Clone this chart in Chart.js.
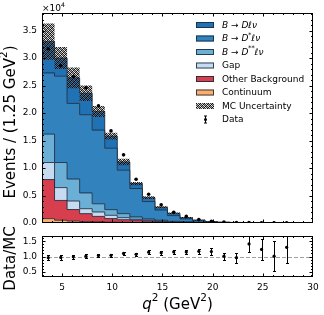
<!DOCTYPE html>
<html>
<head>
<meta charset="utf-8">
<script src="https://cdn.jsdelivr.net/npm/chart.js@4.4.1/dist/chart.umd.min.js"></script>
<style>
html, body { margin: 0; padding: 0; background: #fff; }
#wrap { position: relative; width: 324px; height: 315px; }
canvas { position: absolute; left: 0; top: 0; }
</style>
</head>
<body>
<div id="wrap">
  <canvas id="main" width="324" height="315"></canvas>
  <canvas id="ratio" width="324" height="315"></canvas>
</div>
<script>
// q^2 bins, 1.25 GeV^2 wide
var binEdges = [3, 4.25, 5.5, 6.75, 8, 9.25, 10.5, 11.75, 13, 14.25, 15.5, 16.75, 18, 19.25, 20.5, 21.75, 23, 24.25, 25.5, 26.75, 28, 29.25, 30.5];
var binCenters = [3.625, 4.875, 6.125, 7.375, 8.625, 9.875, 11.125, 12.375, 13.625, 14.875, 16.125, 17.375, 18.625, 19.875, 21.125, 22.375, 23.625, 24.875, 26.125, 27.375];

// MC components (events per bin), stacked bottom -> top
var continuum = [800, 500, 350, 250, 200, 150, 120, 100, 80, 60, 50, 40, 30, 20, 20, 10, 10, 5, 5, 0, 0, 0];
var otherBkg  = [7100, 3600, 2100, 1450, 1000, 650, 480, 400, 280, 190, 100, 60, 40, 30, 20, 20, 10, 10, 5, 5, 0, 0];
var gap       = [3100, 2340, 1550, 900, 800, 600, 370, 170, 140, 100, 70, 40, 30, 20, 10, 10, 10, 5, 5, 0, 0, 0];
var dStarStar = [5170, 4560, 4000, 2870, 1500, 1030, 730, 430, 230, 150, 80, 60, 30, 20, 10, 10, 0, 0, 0, 0, 0, 0];
var dStar     = [11130, 15700, 13750, 14230, 13400, 11170, 7900, 5170, 3170, 1870, 1050, 550, 270, 110, 50, 20, 10, 10, 5, 5, 0, 0];
var dMeson    = [5700, 3300, 4650, 3900, 3400, 2200, 1500, 900, 700, 490, 400, 220, 130, 70, 50, 30, 20, 10, 5, 5, 0, 0];
var mcUnc     = [3300, 2000, 1900, 1400, 1000, 600, 600, 300, 250, 180, 150, 100, 80, 50, 30, 20, 15, 10, 8, 5, 0, 0];

// data
var dataVals = [31700, 28600, 26600, 24600, 21300, 16750, 12400, 7950, 5230, 3300, 1950, 1200, 620, 300, 160, 95, 85, 50, 25, 20];
var dataErr  = [180, 170, 163, 157, 146, 129, 111, 89, 72, 57, 44, 35, 25, 17, 13, 10, 9, 7, 5, 4];
var ratioVals = [0.96, 0.97, 0.99, 1.01, 1.03, 1.04, 1.10, 1.07, 1.14, 1.12, 1.15, 1.15, 1.17, 1.16, 1.01, 0.96, 1.41, 1.23, 1.01, 1.30];
var ratioErr  = [0.09, 0.07, 0.07, 0.06, 0.05, 0.05, 0.06, 0.05, 0.06, 0.06, 0.07, 0.07, 0.08, 0.11, 0.12, 0.17, 0.27, 0.34, 0.49, 0.50];

// ticks
var xTicks = [5, 10, 15, 20, 25, 30];
var yTicks = [0, 5000, 10000, 15000, 20000, 25000, 30000, 35000];
var ratioTicks = [0.5, 1.0, 1.5];

var FONT = '"DejaVu Sans", sans-serif';
var EDGE = 'rgba(25,40,60,0.85)';

// hatch pattern for MC uncertainty
var hatch = (function () {
  var c = document.createElement('canvas');
  c.width = 4; c.height = 4;
  var g = c.getContext('2d');
  for (var i = 0; i < 4; i++) {
    for (var j = 0; j < 4; j++) {
      if ((i + j) % 4 === 3) { g.fillStyle = 'rgba(0,0,0,0.95)'; g.fillRect(i, j, 1, 1); }
      else if ((i + j) % 2 === 1) { g.fillStyle = 'rgba(30,30,30,0.85)'; g.fillRect(i, j, 1, 1); }
      else if ((i - j + 4) % 4 === 0) { g.fillStyle = 'rgba(80,80,80,0.55)'; g.fillRect(i, j, 1, 1); }
      else { g.fillStyle = 'rgba(150,150,150,0.25)'; g.fillRect(i, j, 1, 1); }
    }
  }
  return c.getContext('2d').createPattern(c, 'repeat');
})();

var comps = [
  { v: continuum, c: '#fdae6b' },
  { v: otherBkg,  c: '#d73f4f' },
  { v: gap,       c: '#c6dbef' },
  { v: dStarStar, c: '#6baed6' },
  { v: dStar,     c: '#3182bd' },
  { v: dMeson,    c: '#2171b5' }
];

function steps(vals) {
  return binEdges.map(function (x, i) {
    return { x: x, y: vals[Math.min(i, vals.length - 1)] };
  });
}

var total = continuum.map(function (_, i) {
  return comps.reduce(function (s, c) { return s + c.v[i]; }, 0);
});
var bandLo = total.map(function (t, i) { return t - mcUnc[i]; });
var bandHi = total.map(function (t, i) { return t + mcUnc[i]; });

var datasets = comps.map(function (c, i) {
  return {
    type: 'line', data: steps(c.v), stepped: 'before', stack: 'mc',
    fill: i === 0 ? 'origin' : '-1',
    backgroundColor: c.c, borderColor: EDGE, borderWidth: 1,
    pointRadius: 0, order: 3
  };
});
datasets.push({ type: 'line', data: steps(bandLo), stepped: 'before', stack: 'lo', fill: false,
  borderWidth: 0, borderColor: 'rgba(0,0,0,0)', pointRadius: 0, order: 2 });
datasets.push({ type: 'line', data: steps(bandHi), stepped: 'before', stack: 'hi', fill: '-1',
  backgroundColor: hatch, borderWidth: 0, borderColor: 'rgba(0,0,0,0)', pointRadius: 0, order: 2 });
datasets.push({ type: 'scatter', stack: 'data', order: 0,
  data: binCenters.map(function (x, i) { return { x: x, y: dataVals[i] }; }),
  pointRadius: 1.8, backgroundColor: '#000', borderWidth: 0 });

// inward ticks on all four sides + frame
function frameTicks(chart, xMajor, xMinor, yMajor, yMinor) {
  var ctx = chart.ctx, a = chart.chartArea, xs = chart.scales.x, ys = chart.scales.y;
  ctx.save();
  ctx.strokeStyle = '#000';
  ctx.lineWidth = 1;
  ctx.beginPath();
  function xt(v, len) {
    var p = Math.round(xs.getPixelForValue(v)) + 0.5;
    if (p < a.left || p > a.right) return;
    ctx.moveTo(p, a.bottom); ctx.lineTo(p, a.bottom - len);
    ctx.moveTo(p, a.top); ctx.lineTo(p, a.top + len);
  }
  function yt(v, len) {
    var p = Math.round(ys.getPixelForValue(v)) + 0.5;
    if (p < a.top || p > a.bottom) return;
    ctx.moveTo(a.left, p); ctx.lineTo(a.left + len, p);
    ctx.moveTo(a.right, p); ctx.lineTo(a.right - len, p);
  }
  xMajor.forEach(function (v) { xt(v, 3.5); });
  xMinor.forEach(function (v) { xt(v, 2); });
  yMajor.forEach(function (v) { yt(v, 3.5); });
  yMinor.forEach(function (v) { yt(v, 2); });
  ctx.stroke();
  ctx.strokeRect(Math.round(a.left) + 0.5, Math.round(a.top) + 0.5,
    Math.round(a.right - a.left) - 1, Math.round(a.bottom - a.top) - 1);
  ctx.restore();
}

function rich(ctx, x, y, parts, size) {
  parts.forEach(function (p) {
    var fs = p.sup ? size * 0.7 : size;
    ctx.font = (p.it ? 'italic ' : '') + fs + 'px ' + FONT;
    ctx.fillText(p.t, x, p.sup ? y - size * 0.42 : y);
    x += ctx.measureText(p.t).width;
  });
  return x;
}
function richWidth(ctx, parts, size) {
  var w = 0;
  parts.forEach(function (p) {
    ctx.font = (p.it ? 'italic ' : '') + (p.sup ? size * 0.7 : size) + 'px ' + FONT;
    w += ctx.measureText(p.t).width;
  });
  return w;
}

var xMinor = [];
for (var m = 3; m <= 30; m++) if (m % 5) xMinor.push(m);

var legendItems = [
  { fill: '#2171b5', parts: [{ t: 'B', it: 1 }, { t: ' \u2192 ' }, { t: 'D\u2113\u03bd', it: 1 }] },
  { fill: '#3182bd', parts: [{ t: 'B', it: 1 }, { t: ' \u2192 ' }, { t: 'D', it: 1 }, { t: '*', sup: 1 }, { t: '\u2113\u03bd', it: 1 }] },
  { fill: '#6baed6', parts: [{ t: 'B', it: 1 }, { t: ' \u2192 ' }, { t: 'D', it: 1 }, { t: '**', sup: 1 }, { t: '\u2113\u03bd', it: 1 }] },
  { fill: '#c6dbef', parts: [{ t: 'Gap' }] },
  { fill: '#d73f4f', parts: [{ t: 'Other Background' }] },
  { fill: '#fdae6b', parts: [{ t: 'Continuum' }] },
  { fill: 'hatch', parts: [{ t: 'MC Uncertainty' }] },
  { fill: 'data', parts: [{ t: 'Data' }] }
];

var mainDecor = {
  id: 'mainDecor',
  afterDatasetsDraw: function (chart) {
    var ctx = chart.ctx, xs = chart.scales.x, ys = chart.scales.y;
    ctx.save();
    ctx.strokeStyle = '#000';
    ctx.lineWidth = 1;
    ctx.beginPath();
    binCenters.forEach(function (x, i) {
      var px = Math.round(xs.getPixelForValue(x)) + 0.5;
      ctx.moveTo(px, ys.getPixelForValue(dataVals[i] - dataErr[i]));
      ctx.lineTo(px, ys.getPixelForValue(dataVals[i] + dataErr[i]));
    });
    ctx.stroke();
    ctx.restore();
  },
  afterDraw: function (chart) {
    var ctx = chart.ctx, a = chart.chartArea;
    var yMinor = [];
    for (var v = 0; v <= 38000; v += 1000) if (v % 5000) yMinor.push(v);
    frameTicks(chart, xTicks, xMinor, yTicks, yMinor);
    ctx.save();
    ctx.fillStyle = '#000';
    ctx.textBaseline = 'alphabetic';
    // offset label
    rich(ctx, a.left, 10.5, [{ t: '\u00d710' }, { t: '4', sup: 1 }], 9);
    // legend
    var lx = 196, ly = 25, dy = 13.5, size = 9;
    legendItems.forEach(function (it, i) {
      var cy = ly + i * dy;
      if (it.fill === 'data') {
        ctx.strokeStyle = '#000'; ctx.lineWidth = 1;
        ctx.beginPath();
        ctx.moveTo(205.5, cy - 3.5); ctx.lineTo(205.5, cy + 3.5);
        ctx.moveTo(204, cy - 3.5); ctx.lineTo(207, cy - 3.5);
        ctx.moveTo(204, cy + 3.5); ctx.lineTo(207, cy + 3.5);
        ctx.stroke();
        ctx.beginPath(); ctx.arc(205.5, cy, 1.5, 0, Math.PI * 2); ctx.fill();
      } else {
        ctx.fillStyle = it.fill === 'hatch' ? hatch : it.fill;
        ctx.fillRect(lx, cy - 3, 18, 6);
        if (it.fill !== 'hatch') {
          ctx.strokeStyle = EDGE; ctx.lineWidth = 1;
          ctx.strokeRect(lx + 0.5, cy - 2.5, 17, 5);
        }
      }
      ctx.fillStyle = '#000';
      ctx.textBaseline = 'middle';
      rich(ctx, 222, cy + 0.5, it.parts, size);
    });
    ctx.restore();
  }
};

new Chart(document.getElementById('main'), {
  type: 'line',
  data: { datasets: datasets },
  options: {
    responsive: false, animation: false, devicePixelRatio: 1,
    layout: { padding: { left: 0, right: 11, top: 13, bottom: 92 } },
    plugins: { legend: { display: false }, tooltip: { enabled: false } },
    scales: {
      x: { type: 'linear', min: 3, max: 30, display: false },
      y: {
        min: 0, max: 38200, stacked: true,
        grid: { display: false, drawTicks: false }, border: { display: false },
        afterFit: function (s) { s.width = 42; },
        afterBuildTicks: function (s) { s.ticks = yTicks.map(function (v) { return { value: v }; }); },
        ticks: { padding: 5, color: '#000', font: { family: FONT, size: 9 },
          callback: function (v) { return (v / 1e4).toFixed(1); } }
      }
    }
  },
  plugins: [mainDecor]
});

var ratioDecor = {
  id: 'ratioDecor',
  beforeDatasetsDraw: function (chart) {
    var ctx = chart.ctx, a = chart.chartArea, ys = chart.scales.y;
    var p = Math.round(ys.getPixelForValue(1.0)) + 0.5;
    ctx.save();
    ctx.strokeStyle = '#a0a0a0'; ctx.lineWidth = 1; ctx.setLineDash([4, 2]);
    ctx.beginPath(); ctx.moveTo(a.left, p); ctx.lineTo(a.right, p); ctx.stroke();
    ctx.restore();
  },
  afterDatasetsDraw: function (chart) {
    var ctx = chart.ctx, a = chart.chartArea, xs = chart.scales.x, ys = chart.scales.y;
    ctx.save();
    ctx.beginPath(); ctx.rect(a.left, a.top, a.right - a.left, a.bottom - a.top); ctx.clip();
    ctx.strokeStyle = '#000'; ctx.lineWidth = 1;
    ctx.beginPath();
    binCenters.forEach(function (x, i) {
      var px = Math.round(xs.getPixelForValue(x)) + 0.5;
      var lo = Math.round(ys.getPixelForValue(ratioVals[i] - ratioErr[i])) + 0.5;
      var hi = Math.round(ys.getPixelForValue(ratioVals[i] + ratioErr[i])) + 0.5;
      ctx.moveTo(px, lo); ctx.lineTo(px, hi);
      ctx.moveTo(px - 1.5, lo); ctx.lineTo(px + 1.5, lo);
      ctx.moveTo(px - 1.5, hi); ctx.lineTo(px + 1.5, hi);
    });
    ctx.stroke();
    ctx.restore();
  },
  afterDraw: function (chart) {
    var ctx = chart.ctx, a = chart.chartArea;
    var yMinor = [];
    for (var v = 4; v <= 16; v++) if (v % 5) yMinor.push(v / 10);
    frameTicks(chart, xTicks, xMinor, ratioTicks, yMinor);
    ctx.save();
    ctx.fillStyle = '#000';
    ctx.textBaseline = 'middle';
    ctx.textAlign = 'center';
    // y titles
    ctx.save();
    ctx.translate(11, 122); ctx.rotate(-Math.PI / 2);
    ctx.textAlign = 'left';
    var evParts = [{ t: 'Events / (1.25 GeV' }, { t: '2', sup: 1 }, { t: ')' }];
    rich(ctx, -richWidth(ctx, evParts, 15) / 2, 0, evParts, 15);
    ctx.restore();
    ctx.save();
    ctx.translate(11, (a.top + a.bottom) / 2 + 2); ctx.rotate(-Math.PI / 2);
    ctx.font = '15px ' + FONT;
    ctx.fillText('Data/MC', 0, 0);
    ctx.restore();
    // x title
    ctx.textAlign = 'left';
    var xParts = [{ t: 'q', it: 1 }, { t: '2', sup: 1 }, { t: ' (GeV' }, { t: '2', sup: 1 }, { t: ')' }];
    rich(ctx, (a.left + a.right) / 2 - richWidth(ctx, xParts, 15) / 2, 305, xParts, 15);
    ctx.restore();
  }
};

new Chart(document.getElementById('ratio'), {
  type: 'scatter',
  data: { datasets: [{
    data: binCenters.map(function (x, i) { return { x: x, y: ratioVals[i] }; }),
    pointRadius: 1.6, backgroundColor: '#000', borderWidth: 0
  }] },
  options: {
    responsive: false, animation: false, devicePixelRatio: 1,
    layout: { padding: { left: 0, right: 11, top: 236, bottom: 0 } },
    plugins: { legend: { display: false }, tooltip: { enabled: false } },
    scales: {
      x: {
        type: 'linear', min: 3, max: 30,
        grid: { display: false, drawTicks: false }, border: { display: false },
        afterFit: function (s) { s.height = 38; },
        afterBuildTicks: function (s) { s.ticks = xTicks.map(function (v) { return { value: v }; }); },
        ticks: { padding: 5, color: '#000', font: { family: FONT, size: 9 }, maxRotation: 0,
          callback: function (v) { return String(v); } }
      },
      y: {
        min: 0.33, max: 1.67,
        grid: { display: false, drawTicks: false }, border: { display: false },
        afterFit: function (s) { s.width = 42; },
        afterBuildTicks: function (s) { s.ticks = ratioTicks.map(function (v) { return { value: v }; }); },
        ticks: { padding: 5, color: '#000', font: { family: FONT, size: 9 },
          callback: function (v) { return v.toFixed(1); } }
      }
    }
  },
  plugins: [ratioDecor]
});
</script>
</body>
</html>
